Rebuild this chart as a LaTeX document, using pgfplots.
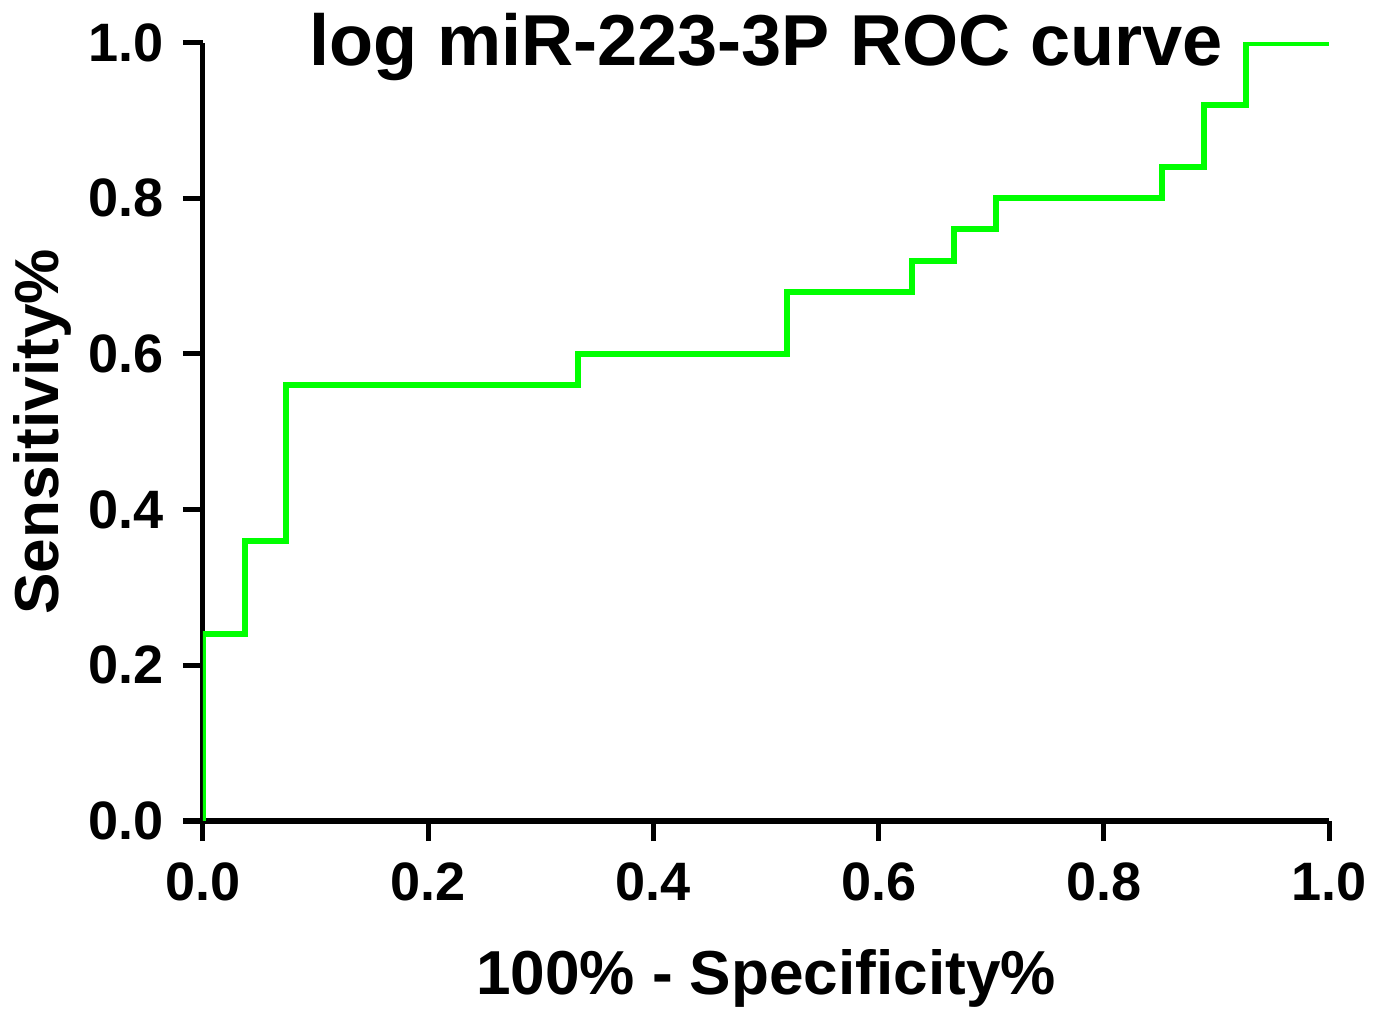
\documentclass[border=0pt]{standalone}
\usepackage{pgfplots}
\pgfplotsset{compat=1.18}
\usepackage{fontspec}
\setmainfont{Liberation Sans}
\begin{document}
\begin{tikzpicture}
\begin{axis}[
  scale only axis,
  width=281pt, height=194.25pt,
  xmin=0, xmax=1, ymin=0, ymax=1,
  axis x line*=bottom, axis y line*=left,
  axis line style={line width=1.25pt, -},
  xtick={0,0.2,0.4,0.6,0.8,1.0},
  ytick={0,0.2,0.4,0.6,0.8,1.0},
  tick align=outside,
  major tick length=5pt,
  tick style={line width=1.25pt, black},
  minor tick num=0,
  /pgf/number format/assume math mode=true,
  /pgf/number format/fixed, /pgf/number format/fixed zerofill,
  /pgf/number format/precision=1,
  ticklabel style={font=\fontsize{13.5}{15}\selectfont\bfseries},
  xticklabel style={yshift=-2pt},
  yticklabel style={xshift=-1.2pt},
  xlabel={100\% - Specificity\%},
  ylabel={Sensitivity\%},
  label style={font=\fontsize{15.5}{17}\selectfont\bfseries},
  xlabel style={yshift=-5pt},
  ylabel style={yshift=-2.5pt},
  every axis title/.style={at={(0.5,1)}, anchor=base, yshift=-5.75pt},
  title={log miR-223-3P ROC curve},
  title style={font=\fontsize{18}{20}\selectfont\bfseries},
]
\addplot[color={rgb,255:red,0;green,255;blue,0}, line width=1.5pt, const plot] coordinates {
(0,0) (0,0.24) (0.037,0.36) (0.074,0.56) (0.333,0.60) (0.519,0.68) (0.630,0.72) (0.667,0.76) (0.704,0.80) (0.852,0.84) (0.889,0.92) (0.926,1.0) (1.0,1.0)
};
\end{axis}
\end{tikzpicture}
\end{document}
